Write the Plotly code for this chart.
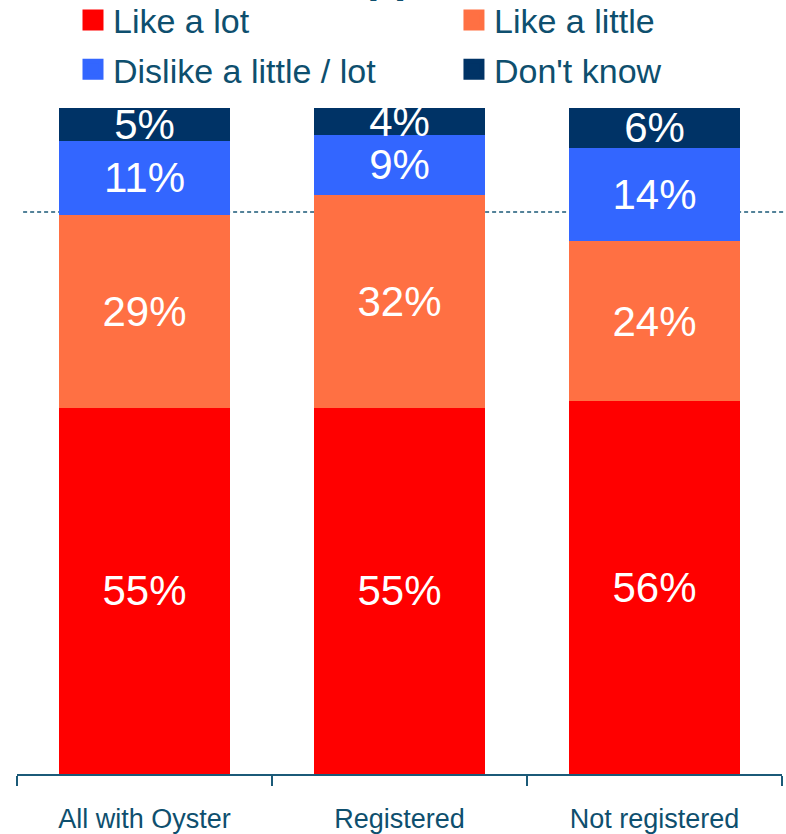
import plotly.graph_objects as go

# Survey groups and response shares (%)
groups = ["All with Oyster", "Registered", "Not registered"]
like_a_lot = [55, 55, 56]
like_a_little = [29, 32, 24]
dislike = [11, 9, 14]
dont_know = [5, 4, 6]

series = [
    ("Like a lot", like_a_lot, "#FF0000"),
    ("Like a little", like_a_little, "#FF7043"),
    ("Dislike a little / lot", dislike, "#3366FF"),
    ("Don't know", dont_know, "#003366"),
]

reference_level = 84.4  # dashed reference line (%)
title_text = "Support"

text_col = "#0E4F6E"
axis_col = "#1B5A78"

fig = go.Figure()

for name, vals, col in series:
    fig.add_trace(go.Bar(
        x=groups, y=vals, name=name, marker=dict(color=col, line=dict(width=0)),
        text=[f"{v}%" for v in vals], textposition="inside",
        insidetextanchor="middle",
        textfont=dict(color="white", size=42, family="Arial, Liberation Sans"),
        showlegend=False, hoverinfo="skip",
    ))

# Legend entries (2 x 2 grid), one legend box per entry, with larger swatches
legend_ids = ["legend", "legend2", "legend3", "legend4"]
legend_pos = [(0.0732, 1.175), (0.5712, 1.175), (0.0732, 1.101), (0.5712, 1.101)]
for (name, vals, col), lid in zip(series, legend_ids):
    fig.add_trace(go.Scatter(
        x=[None], y=[None], mode="markers", name=name, legend=lid,
        marker=dict(symbol="square", size=16, color=col,
                    line=dict(color=col, width=5)),
        showlegend=True,
    ))

fig.add_shape(type="line", xref="paper", yref="y",
              x0=0.008, x1=1.004, y0=reference_level, y1=reference_level,
              line=dict(color=axis_col, width=1.5, dash="4px,3px"), layer="below")

fig.add_annotation(text=f"<b>{title_text}</b>", xref="paper", yref="paper",
                   x=0.495, y=1, yanchor="bottom", xanchor="center", showarrow=False,
                   yshift=105, font=dict(size=44, color=text_col, family="Arial, Liberation Sans"))

legend_layout = {}
for lid, (lx, ly) in zip(legend_ids, legend_pos):
    legend_layout[lid] = dict(
        orientation="h", xref="paper", yref="paper", x=lx, y=ly,
        xanchor="left", yanchor="top",
        font=dict(size=34, color=text_col), bgcolor="rgba(0,0,0,0)",
        itemclick=False, itemdoubleclick=False,
    )

fig.update_layout(
    width=786, height=834,
    margin=dict(l=17, r=4, t=108, b=60, autoexpand=False),
    paper_bgcolor="white", plot_bgcolor="white",
    barmode="stack", bargap=0.33,
    uniformtext=dict(minsize=42, mode="show"),
    font=dict(family="Arial, Liberation Sans", color=text_col),
    showlegend=True,
    xaxis=dict(range=[-0.5, 2.5], showline=True, linecolor=axis_col, linewidth=2,
               ticks="outside", tickson="boundaries", ticklen=10, tickwidth=2,
               tickcolor=axis_col, tickfont=dict(size=27, color=text_col),
               ticklabelstandoff=20, tickangle=0,
               showgrid=False, zeroline=False, fixedrange=True),
    yaxis=dict(range=[0, 100], visible=False, showgrid=False, zeroline=False,
               fixedrange=True),
    **legend_layout,
)

fig.write_html("out.html", config={"displayModeBar": False})
